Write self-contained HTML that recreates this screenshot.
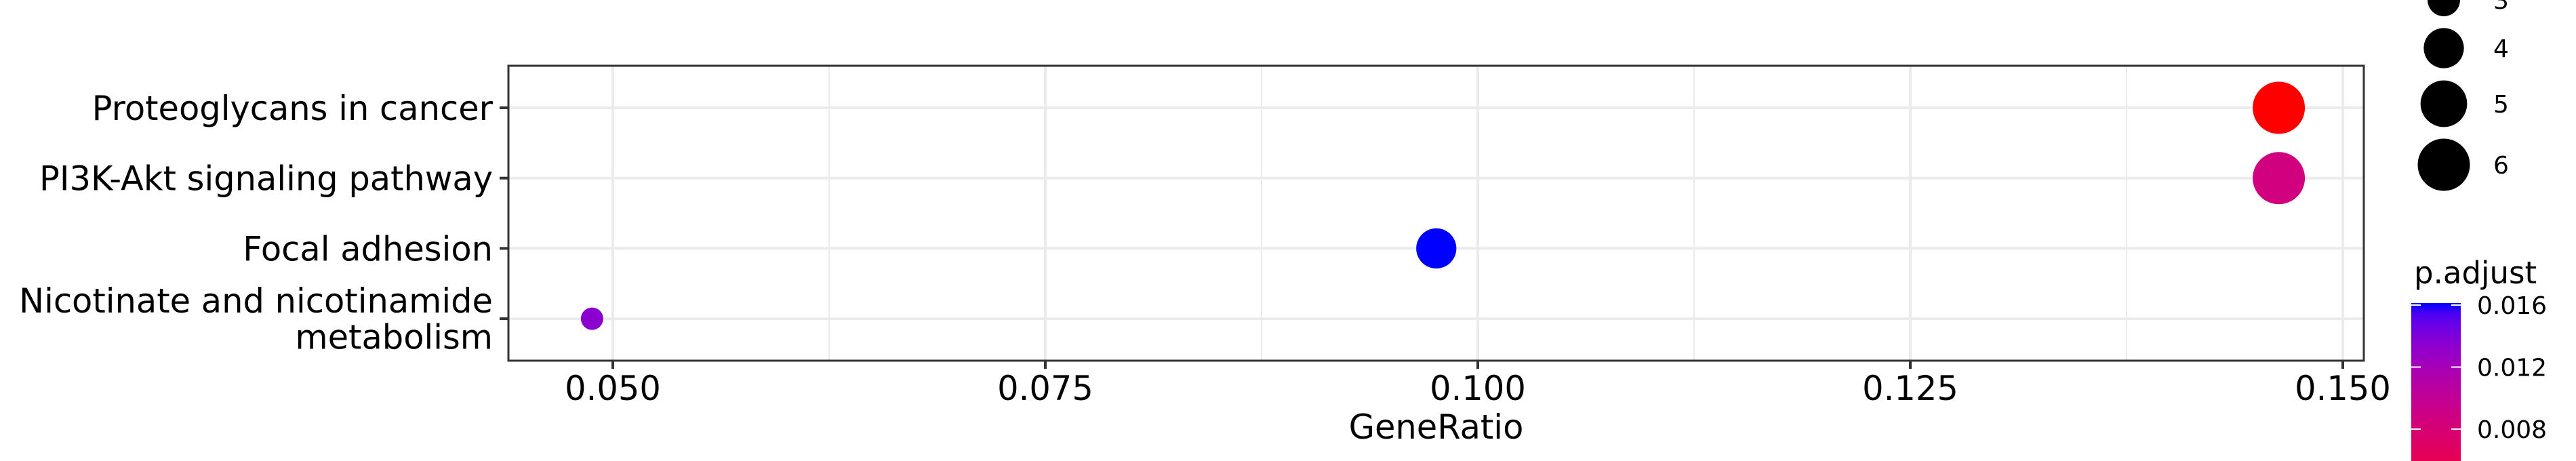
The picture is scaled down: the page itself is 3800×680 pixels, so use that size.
<!DOCTYPE html>
<html><head><meta charset="utf-8">
<style>
html,body{margin:0;padding:0;background:#fff;width:3800px;height:680px;overflow:hidden;}
svg{display:block;overflow:hidden;font-family:"DejaVu Sans","Liberation Sans",sans-serif;}
</style></head>
<body>
<svg id="chart" width="3800" height="680" viewBox="0 0 3800 680"></svg>
<script>
const categories = ["Proteoglycans in cancer","PI3K-Akt signaling pathway","Focal adhesion","Nicotinate and nicotinamide metabolism"];
const geneRatio = [0.1463, 0.1463, 0.0976, 0.0488];
const counts = [6, 6, 4, 2];
const pAdjust = [0.00235, 0.0086, 0.01613, 0.0134];
const xTicks = [0.050, 0.075, 0.100, 0.125, 0.150];
const xTickLabels = ["0.050","0.075","0.100","0.125","0.150"];
const sizeLegend = [3, 4, 5, 6];
const colorTicks = [0.016, 0.012, 0.008];
const colorTickLabels = ["0.016","0.012","0.008"];

const NS = "http://www.w3.org/2000/svg";
const svg = document.getElementById("chart");
function mk(tag, attrs, parent){
  const e = document.createElementNS(NS, tag);
  for (const k in attrs) e.setAttribute(k, attrs[k]);
  (parent||svg).appendChild(e);
  return e;
}
const L=750, R=3487, T=97, B=532;
const FS=49.5;
const xScale = v => 904 + (v-0.05)/0.1*2552;
const yScale = i => 159 + i*103.7;
const cMin = Math.min(...counts), cMax = Math.max(...counts);
const rMin = 16.5, rMax = 38.5;
const rScale = c => Math.sqrt(rMin*rMin + (c-cMin)/(cMax-cMin)*(rMax*rMax-rMin*rMin));
const pMin = Math.min(...pAdjust), pMax = Math.max(...pAdjust);

function toLin(c){c/=255;return c<=0.04045?c/12.92:Math.pow((c+0.055)/1.055,2.4);}
function fromLin(c){c=c<=0.0031308?12.92*c:1.055*Math.pow(c,1/2.4)-0.055;return Math.max(0,Math.min(255,Math.round(c*255)));}
function rgb2lab(r,g,b){
  r=toLin(r);g=toLin(g);b=toLin(b);
  let X=(0.4124*r+0.3576*g+0.1805*b)/0.95047,Y=(0.2126*r+0.7152*g+0.0722*b),Z=(0.0193*r+0.1192*g+0.9505*b)/1.08883;
  const f=t=>t>0.008856?Math.cbrt(t):7.787*t+16/116;
  X=f(X);Y=f(Y);Z=f(Z);
  return [116*Y-16,500*(X-Y),200*(Y-Z)];
}
function lab2rgb(L,a,bb){
  let Y=(L+16)/116,X=a/500+Y,Z=Y-bb/200;
  const fi=t=>t*t*t>0.008856?t*t*t:(t-16/116)/7.787;
  X=fi(X)*0.95047;Y=fi(Y);Z=fi(Z)*1.08883;
  const r=3.2406*X-1.5372*Y-0.4986*Z,g=-0.9689*X+1.8758*Y+0.0415*Z,b=0.0557*X-0.2040*Y+1.0570*Z;
  return "rgb("+fromLin(r)+","+fromLin(g)+","+fromLin(b)+")";
}
const labR=rgb2lab(255,0,0), labB=rgb2lab(0,0,255);
function colorOf(p){
  let t=(p-pMin)/(pMax-pMin); t=Math.max(0,Math.min(1,t));
  return lab2rgb(labR[0]+(labB[0]-labR[0])*t,labR[1]+(labB[1]-labR[1])*t,labR[2]+(labB[2]-labR[2])*t);
}

const panel = mk("g",{});


mk("rect",{x:L,y:T,width:R-L,height:B-T,fill:"#fff"},panel);
for(let i=0;i<xTicks.length+1;i++){
  const v = 0.0375 + i*0.025;
  const x = xScale(v);
  if(x>L && x<R){
    const g = mk("line",{x1:x,x2:x,y1:T,y2:B,stroke:"#EBEBEB","stroke-width":2},panel);
    
    
  }
}
xTicks.forEach(v=>{
  const x=xScale(v);
  const g=mk("line",{x1:x,x2:x,y1:T,y2:B,stroke:"#EBEBEB","stroke-width":4},panel);
  
  
});
categories.forEach((c,i)=>{
  const y=yScale(i);
  const g=mk("line",{x1:L,x2:R,y1:y,y2:y,stroke:"#EBEBEB","stroke-width":4},panel);
  
  
});
categories.forEach((c,i)=>{
  const pt=mk("circle",{cx:xScale(geneRatio[i]),cy:yScale(i),r:rScale(counts[i]),fill:colorOf(pAdjust[i])});
  
  
});
const border=mk("rect",{x:L,y:T,width:R-L,height:B-T,fill:"none",stroke:"#333","stroke-width":3});



categories.forEach((c,i)=>{
  const y=yScale(i);
  const tk=mk("line",{x1:737,x2:L,y1:y,y2:y,stroke:"#333","stroke-width":4});
  
  
  const t=mk("text",{x:727,"text-anchor":"end","font-size":FS,fill:"#000"});
  
  
  if(c==="Nicotinate and nicotinamide metabolism"){
    const a=mk("tspan",{x:727,y:y-9},t); a.textContent="Nicotinate and nicotinamide";
    const b=mk("tspan",{x:727,y:y+44.5},t); b.textContent="metabolism";
  } else { t.setAttribute("y",y+18); t.textContent=c; }
});
xTicks.forEach((v,i)=>{
  const x=xScale(v);
  const tk=mk("line",{x1:x,x2:x,y1:B,y2:B+12,stroke:"#333","stroke-width":4});
  
  
  const t=mk("text",{x:x,y:590,"text-anchor":"middle","font-size":FS,fill:"#000"});
  
  
  t.textContent=xTickLabels[i];
});
const xt=mk("text",{x:(L+R)/2,y:647,"text-anchor":"middle","font-size":FS,fill:"#000"});


xt.textContent="GeneRatio";

const sizeY = {3:0,4:71,5:153,6:243};
sizeLegend.forEach(c=>{
  const cy=sizeY[c];
  const k=mk("circle",{cx:3605,cy:cy,r:rScale(c),fill:"#000"});
  
  
  const t=mk("text",{x:3678,y:cy+13,"font-size":36,fill:"#000"});
  
  
  t.textContent=String(c);
});

const ct=mk("text",{x:3561,y:418,"font-size":45,fill:"#000"});


ct.textContent="p.adjust";
const barTop=447, perUnit=91.5/0.004;
const barY = p => barTop + (pMax-p)*perUnit;
const fullH = barY(pMin)-barTop;
const visH = Math.min(fullH, 680-barTop);
const defs=mk("defs",{});
const grad=mk("linearGradient",{id:"pg",gradientUnits:"userSpaceOnUse",x1:0,y1:barTop,x2:0,y2:barTop+fullH},defs);
for(let i=0;i<=20;i++){
  const p=pMax-(pMax-pMin)*i/20;
  mk("stop",{offset:(i*5)+"%","stop-color":colorOf(p)},grad);
}
const bar=mk("rect",{x:3557,y:barTop,width:73,height:visH,fill:"url(#pg)"});


colorTicks.forEach((p,i)=>{
  const y=barY(p);
  const a=mk("line",{x1:3557,x2:3571,y1:y,y2:y,stroke:"#fff","stroke-width":2});
  
  
  const b=mk("line",{x1:3616,x2:3630,y1:y,y2:y,stroke:"#fff","stroke-width":2});
  
  
  const t=mk("text",{x:3654,y:y+13,"font-size":36,fill:"#000"});
  
  
  t.textContent=colorTickLabels[i];
});
</script>
</body></html>
